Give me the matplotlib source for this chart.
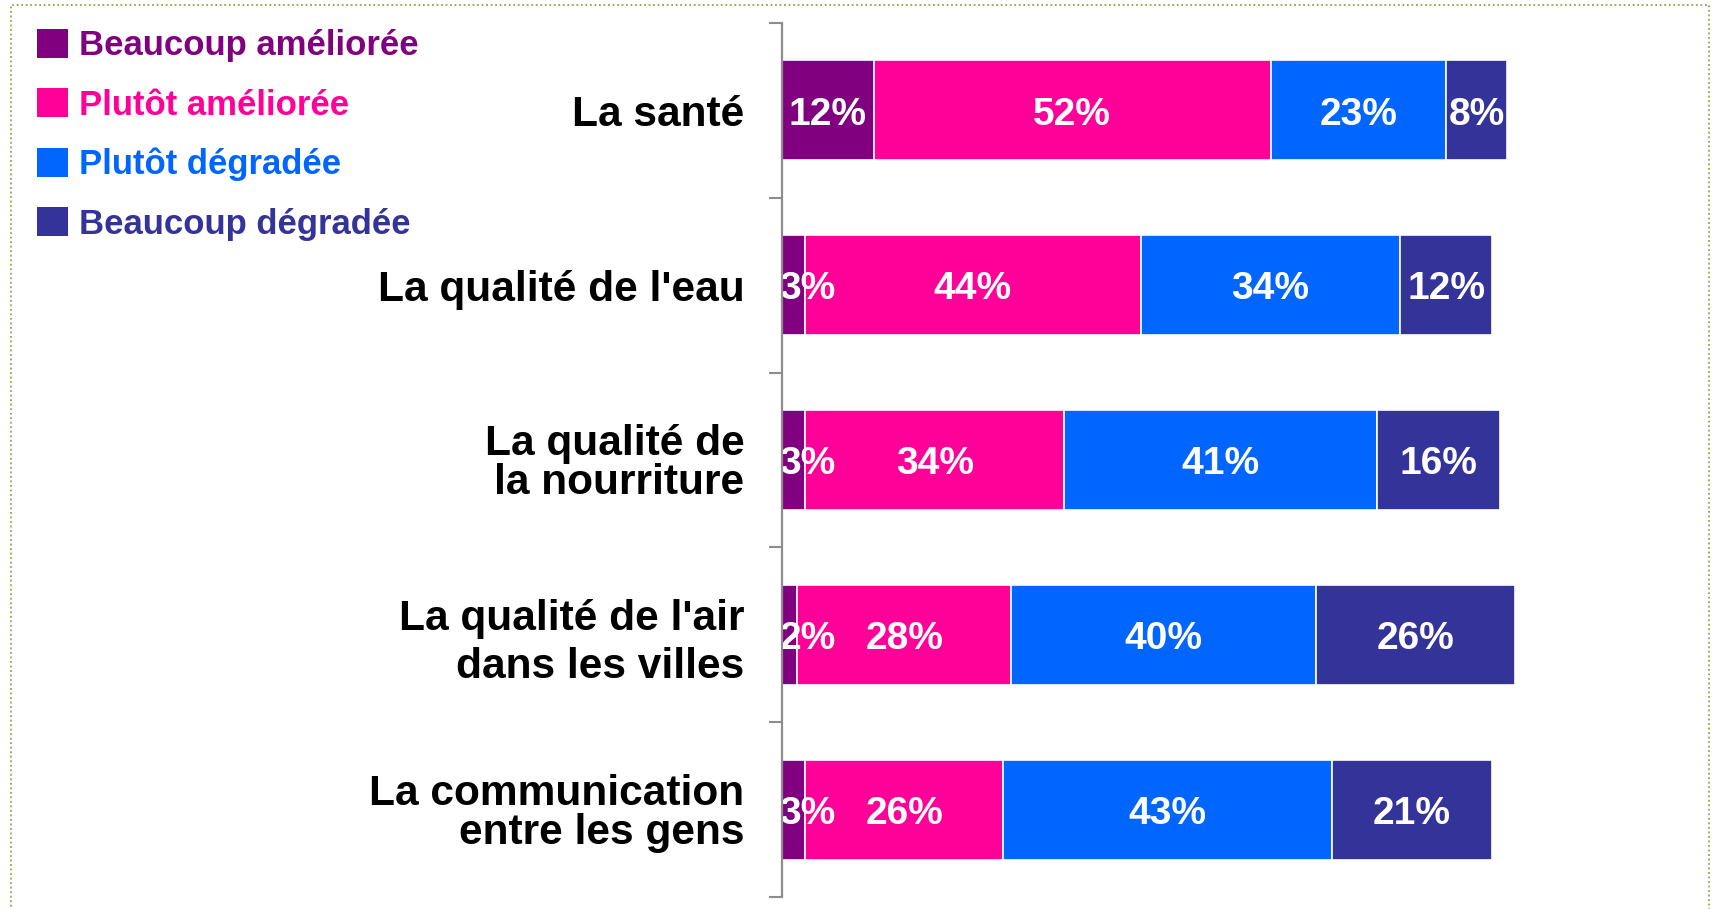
import matplotlib
matplotlib.use("Agg")
import matplotlib.pyplot as plt
from matplotlib.patches import Patch, Rectangle
import numpy as np

plt.rcParams['font.family'] = ['Liberation Sans', 'DejaVu Sans']

# data
categories = ["La santé", "La qualité de l'eau", "La qualité de\nla nourriture",
              "La qualité de l'air\ndans les villes", "La communication\nentre les gens"]
series_names = ["Beaucoup améliorée", "Plutôt améliorée", "Plutôt dégradée", "Beaucoup dégradée"]
beaucoup_amelioree = [12, 3, 3, 2, 3]
plutot_amelioree = [52, 44, 34, 28, 26]
plutot_degradee = [23, 34, 41, 40, 43]
beaucoup_degradee = [8, 12, 16, 26, 21]
colors = ["#800080", "#FF0099", "#0066FF", "#333399"]

values = [beaucoup_amelioree, plutot_amelioree, plutot_degradee, beaucoup_degradee]

fig = plt.figure(figsize=(17.12, 9.09), dpi=100)
ax = fig.add_axes([782 / 1712, 12 / 909, (1698 - 782) / 1712, (897 - 23) / 909])

y = np.arange(len(categories))
left = np.zeros(len(categories))
for vals, col, name in zip(values, colors, series_names):
    ax.barh(y, vals, left=left, height=0.572, color=col,
            edgecolor="white", linewidth=1.2, label=name)
    for yi, l, v in zip(y, left, vals):
        if v < 5:
            # too narrow: label pushed against the axis, like the original
            ax.annotate(f"{v}%", (0, yi), xytext=(-2, -3), textcoords="offset points",
                        ha="left", va="center", color="white", fontsize=28,
                        fontweight="bold", annotation_clip=False, clip_on=True)
        else:
            ax.annotate(f"{v}%", (l + v / 2, yi), xytext=(0, -3), textcoords="offset points",
                        ha="center", va="center", color="white", fontsize=28,
                        fontweight="bold")
    left += np.array(vals)

ax.set_xlim(0, 120)
ax.set_ylim(len(categories) - 0.5, -0.5)

# axis styling
for s in ["top", "right", "bottom"]:
    ax.spines[s].set_visible(False)
ax.spines["left"].set_color("#8c8c8c")
ax.spines["left"].set_linewidth(1.6)
ax.spines["left"].set_zorder(5)
ax.set_xticks([])
ax.set_yticks(y)
ax.set_yticklabels(categories, fontsize=30.6, fontweight="bold", ha="right")
ax.set_yticks(np.arange(-0.5, len(categories), 1.0), minor=True)
ax.tick_params(axis="y", which="major", length=0, pad=27)
ax.tick_params(axis="y", which="minor", length=9.5, width=1.5, color="#8c8c8c")
for lbl, ls in zip(ax.get_yticklabels(), [1.0, 1.0, 0.95, 1.25, 0.98]):
    lbl.set_linespacing(ls)

# legend
handles = [Patch(facecolor=c, edgecolor="none") for c in colors]
leg = fig.legend(handles, series_names, loc="upper left",
                 bbox_to_anchor=(37 / 1712, 1 - 29 / 909), frameon=False,
                 prop={"size": 25, "weight": "bold"}, handlelength=0.9,
                 handleheight=0.9, handletextpad=0.3, labelspacing=0.75,
                 borderpad=0, borderaxespad=0)
for txt, c in zip(leg.get_texts(), colors):
    txt.set_color(c)

# dotted frame around the chart
fig.patches.append(Rectangle((11 / 1712, -0.05), (1709 - 11) / 1712, 1.05 - 5 / 909,
                             transform=fig.transFigure, fill=False,
                             edgecolor="#9aa04a", linestyle=(0, (1, 1.5)),
                             linewidth=1.3))

fig.savefig("out.png", dpi=100)
